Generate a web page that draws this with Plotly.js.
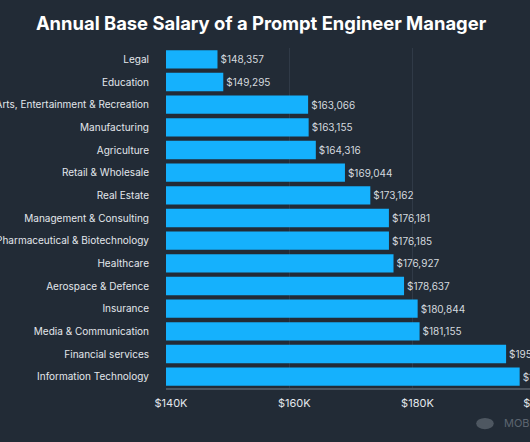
<!DOCTYPE html>
<html>
<head>
<meta charset="utf-8">
<script src="https://cdn.plot.ly/plotly-3.0.1.min.js"></script>
<style>
html,body{margin:0;padding:0;background:#222b36;overflow:hidden;width:530px;height:442px;}
#chart{width:560px;height:442px;}
</style>
</head>
<body>
<div id="chart"></div>
<script>
const industries = [
  "Legal",
  "Education",
  "Arts, Entertainment & Recreation",
  "Manufacturing",
  "Agriculture",
  "Retail & Wholesale",
  "Real Estate",
  "Management & Consulting",
  "Pharmaceutical & Biotechnology",
  "Healthcare",
  "Aerospace & Defence",
  "Insurance",
  "Media & Communication",
  "Financial services",
  "Information Technology"
];
const salaries = [148357, 149295, 163066, 163155, 164316, 169044, 173162, 176181, 176185, 176927, 178637, 180844, 181155, 195200, 197400];
const tickValues = [140000, 160000, 180000, 200000];
const tickLabels = ["$140K", "$160K", "$180K", "$200K"];

const font = "Inter, 'Open Sans', sans-serif";

Plotly.newPlot("chart", [{
  type: "bar",
  orientation: "h",
  y: industries,
  x: salaries,
  marker: {color: "#15b1fd"},
  text: salaries.map(v => "$" + v.toLocaleString("en-US")),
  textposition: "outside",
  textfont: {family: font, size: 10, color: "#d4d9df"},
  cliponaxis: false,
  hoverinfo: "none"
}], {
  width: 560,
  height: 442,
  paper_bgcolor: "#222b36",
  plot_bgcolor: "#222b36",
  margin: {l: 166, r: 12, t: 48, b: 54},
  bargap: 0.19,
  showlegend: false,
  title: {
    text: "<b>Annual Base Salary of a Prompt Engineer Manager</b>",
    font: {family: font, size: 18.4, color: "#ffffff"},
    x: 261 / 560, xref: "container", xanchor: "center",
    y: 25, yref: "container", yanchor: "middle"
  },
  xaxis: {
    range: [140000, 202000],
    tickvals: tickValues,
    ticktext: tickLabels,
    showgrid: true,
    gridcolor: "#303a47",
    gridwidth: 1,
    zeroline: false,
    showline: true,
    linecolor: "#4b545f",
    linewidth: 2,
    ticks: "",
    ticklabelstandoff: 4,
    ticklabelshift: 5,
    tickfont: {family: font, size: 11, color: "#e3e7ec"},
    fixedrange: true
  },
  yaxis: {
    autorange: "reversed",
    showgrid: false,
    zeroline: false,
    showline: false,
    ticks: "",
    ticklabelstandoff: 16,
    tickfont: {family: font, size: 10, color: "#e3e7ec"},
    fixedrange: true
  },
  shapes: [{
    type: "circle",
    xref: "paper", yref: "paper",
    x0: 0.812, x1: 0.858, y0: -0.088, y1: -0.121,
    fillcolor: "#4e5761", line: {width: 0}
  }],
  annotations: [{
    text: "MOBILUNITY",
    xref: "paper", yref: "paper",
    x: 0.880, y: -0.103,
    xanchor: "left", yanchor: "middle",
    showarrow: false,
    font: {family: font, size: 11, color: "#5c6570"}
  }]
}, {displayModeBar: false, staticPlot: true});
</script>
</body>
</html>
